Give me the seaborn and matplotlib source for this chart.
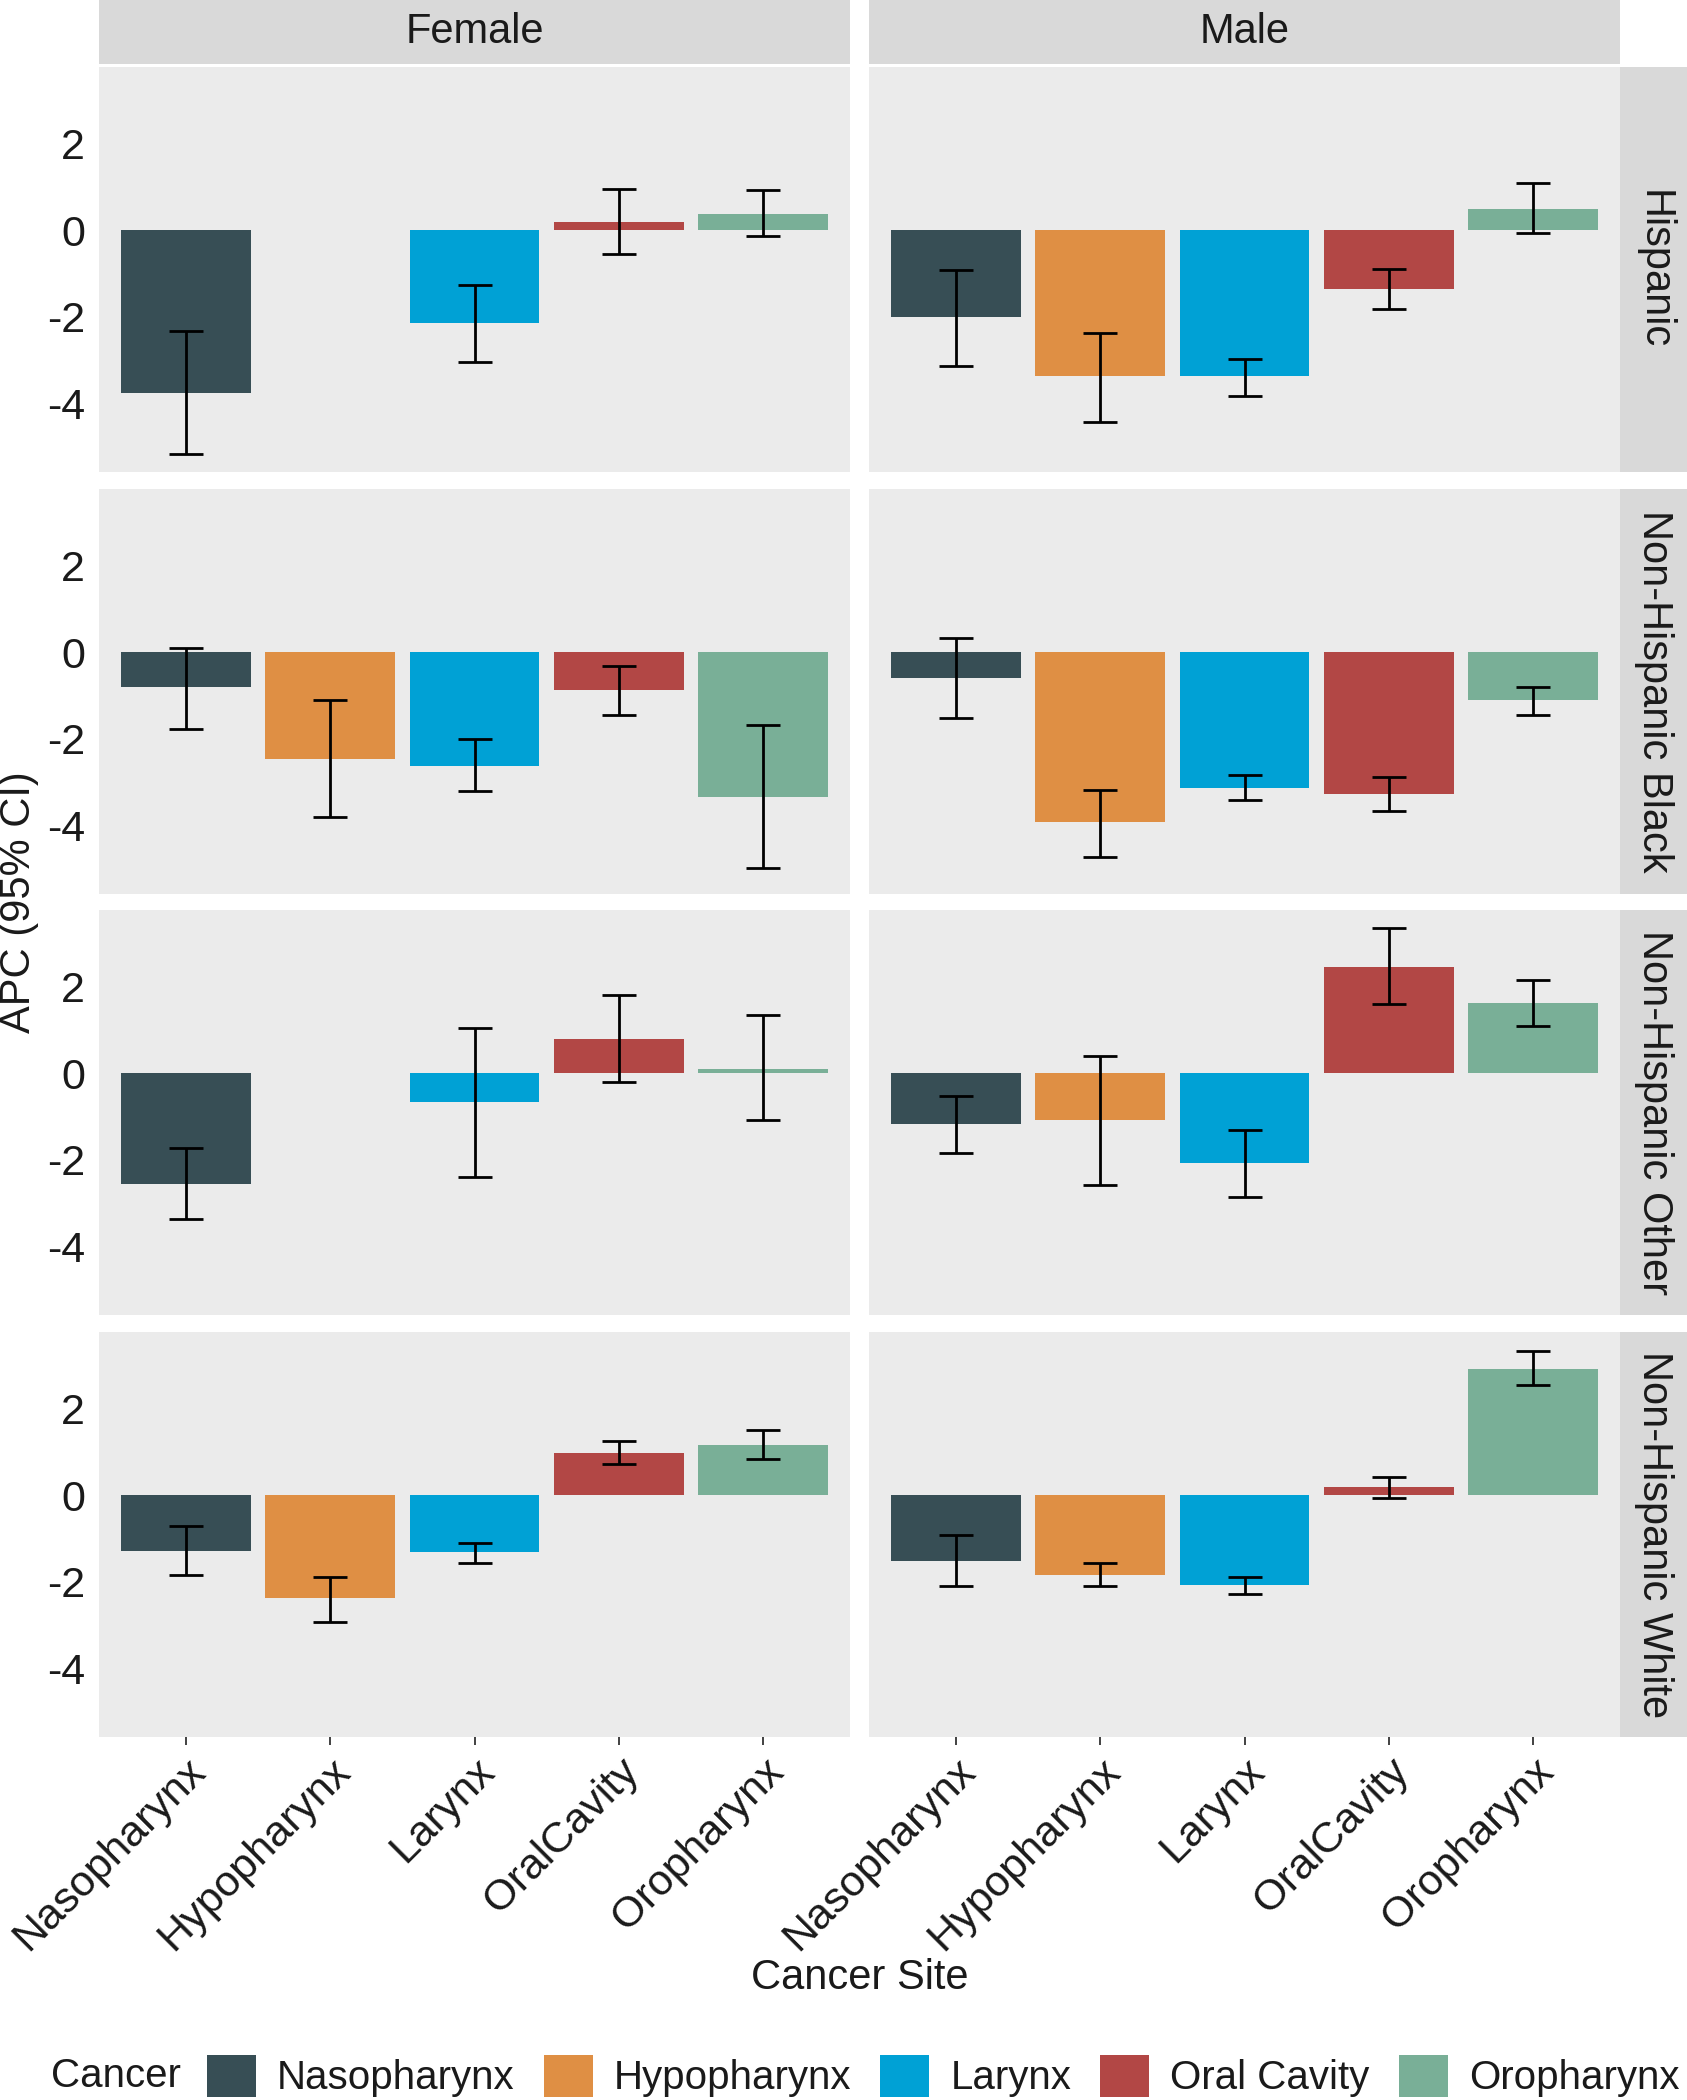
import numpy as np
import pandas as pd
import matplotlib
matplotlib.use("Agg")
import matplotlib.pyplot as plt
from matplotlib.patches import Patch
import seaborn as sns

# ---------------- data ----------------
sites = ["Nasopharynx", "Hypopharynx", "Larynx", "OralCavity", "Oropharynx"]
legend_labels = ["Nasopharynx", "Hypopharynx", "Larynx", "Oral Cavity", "Oropharynx"]
sexes = ["Female", "Male"]
races = ["Hispanic", "Non-Hispanic Black", "Non-Hispanic Other", "Non-Hispanic White"]
colors = ["#374E55", "#DF8F44", "#00A1D5", "#B24745", "#79AF97"]

nan = np.nan
# rows = races, columns = sites
female_apc = [[-3.75, nan, -2.15, 0.19, 0.38],
              [-0.80, -2.47, -2.62, -0.86, -3.33],
              [-2.55, nan, -0.67, 0.80, 0.10],
              [-1.29, -2.37, -1.32, 0.98, 1.17]]
female_lo = [[-5.15, nan, -3.04, -0.54, -0.14],
             [-1.76, -3.80, -3.21, -1.45, -4.97],
             [-3.37, nan, -2.39, -0.21, -1.07],
             [-1.85, -2.92, -1.57, 0.71, 0.83]]
female_hi = [[-2.32, nan, -1.27, 0.96, 0.92],
             [0.09, -1.11, -2.00, -0.31, -1.67],
             [-1.72, nan, 1.04, 1.81, 1.35],
             [-0.71, -1.88, -1.11, 1.26, 1.51]]
male_apc = [[-2.00, -3.37, -3.37, -1.35, 0.50],
            [-0.59, -3.92, -3.12, -3.27, -1.11],
            [-1.17, -1.07, -2.06, 2.45, 1.63],
            [-1.51, -1.85, -2.06, 0.18, 2.92]]
male_lo = [[-3.12, -4.42, -3.83, -1.82, -0.06],
           [-1.51, -4.72, -3.40, -3.67, -1.45],
           [-1.84, -2.58, -2.85, 1.60, 1.10],
           [-2.09, -2.09, -2.28, -0.06, 2.55]]
male_hi = [[-0.92, -2.36, -2.96, -0.90, 1.10],
           [0.34, -3.18, -2.84, -2.87, -0.80],
           [-0.52, 0.40, -1.32, 3.34, 2.15],
           [-0.92, -1.57, -1.88, 0.43, 3.32]]

# ---------------- build long table ----------------
recs = []
for sex, apc, lo, hi in [("Female", female_apc, female_lo, female_hi),
                         ("Male", male_apc, male_lo, male_hi)]:
    for ri, race in enumerate(races):
        for si, site in enumerate(sites):
            if not np.isnan(apc[ri][si]):
                recs.append(dict(sex=sex, race=race, site=site,
                                 apc=apc[ri][si], lo=lo[ri][si], hi=hi[ri][si]))
df = pd.DataFrame(recs)

sns.set_theme(style="white")
plt.rcParams["font.family"] = ["Liberation Sans", "DejaVu Sans"]

FS = 30
LFS = 29
TXT = "#1A1A1A"
PANEL_BG = "#EBEBEB"
STRIP_BG = "#D9D9D9"

W, H = 1687, 2100
fig = plt.figure(figsize=(W / 100, H / 100), dpi=100)

col_x = [99, 869]
col_w = 751
row_y = [67, 489, 910, 1332]
row_h = 405

ymin = df["lo"].min()
ymax = df["hi"].max()
pad = (ymax - ymin) * 0.05
ylim = (ymin - pad, ymax + pad)

pal = dict(zip(sites, colors))

for ci, sex in enumerate(sexes):
    for ri, race in enumerate(races):
        ax = fig.add_axes([col_x[ci] / W, 1 - (row_y[ri] + row_h) / H, col_w / W, row_h / H])
        ax.set_facecolor(PANEL_BG)
        sub = df[(df.sex == sex) & (df.race == race)]
        sns.barplot(data=sub, x="site", y="apc", hue="site", order=sites, hue_order=sites,
                    palette=pal, width=0.9, dodge=False, legend=False, errorbar=None,
                    linewidth=0, saturation=1, ax=ax)
        pos = [sites.index(s) for s in sub["site"]]
        ax.errorbar(pos, sub["apc"], yerr=[sub["apc"] - sub["lo"], sub["hi"] - sub["apc"]],
                    fmt="none", ecolor="black", elinewidth=2.0, capsize=12.5, capthick=2.0,
                    zorder=5)
        ax.set_xlim(-0.6, 4.6)
        ax.set_ylim(*ylim)
        ax.set_yticks([-4, -2, 0, 2])
        for sp in ax.spines.values():
            sp.set_visible(False)
        ax.set_xlabel("")
        ax.set_ylabel("")
        ax.grid(False)
        ax.tick_params(axis="both", length=6, width=1.3, color="#333333",
                       labelsize=FS + 1, labelcolor=TXT, pad=4)
        if ci == 0:
            ax.set_yticklabels(["-4", "-2", "0", "2"])
        else:
            ax.tick_params(axis="y", left=False, labelleft=False)
        if ri == len(races) - 1:
            ax.tick_params(axis="x", bottom=True)
            ax.set_xticks(range(len(sites)))
            ax.set_xticklabels(sites, rotation=45, ha="right", va="top",
                               rotation_mode="anchor")
        else:
            ax.tick_params(axis="x", bottom=False, labelbottom=False)

        # right strips
        if ci == 1:
            sx = fig.add_axes([1620 / W, 1 - (row_y[ri] + row_h) / H, 67 / W, row_h / H])
            sx.set_facecolor(STRIP_BG)
            sx.set_xticks([]); sx.set_yticks([])
            for sp in sx.spines.values():
                sp.set_visible(False)
            sx.text(0.5, 0.5, race, rotation=-90, ha="center", va="center",
                    fontsize=FS, color=TXT, transform=sx.transAxes)

    # top strips
    tx = fig.add_axes([col_x[ci] / W, 1 - 64 / H, col_w / W, 64 / H])
    tx.set_facecolor(STRIP_BG)
    tx.set_xticks([]); tx.set_yticks([])
    for sp in tx.spines.values():
        sp.set_visible(False)
    tx.text(0.5, 0.5, sex, ha="center", va="center", fontsize=FS, color=TXT,
            transform=tx.transAxes)

# axis titles
fig.text(19 / W, 1 - 902 / H, "APC (95% CI)", rotation=90, ha="center", va="center",
         fontsize=FS, color=TXT)
fig.text(860 / W, 1 - 1978 / H, "Cancer Site", ha="center", va="center",
         fontsize=FS, color=TXT)

# legend
fig.text(51 / W, 1 - 2076 / H, "Cancer", ha="left", va="center", fontsize=LFS, color=TXT)
handles = [Patch(facecolor=c, edgecolor="none") for c in colors]
leg = fig.legend(handles, legend_labels, loc="center left",
                 bbox_to_anchor=(207 / W, 1 - 2076 / H), ncol=5, frameon=False,
                 fontsize=LFS, handlelength=1.22, handleheight=1.22,
                 handletextpad=0.52, columnspacing=0.72, borderaxespad=0, borderpad=0)
for t in leg.get_texts():
    t.set_color(TXT)

fig.savefig("out.png", dpi=100, facecolor="white")
